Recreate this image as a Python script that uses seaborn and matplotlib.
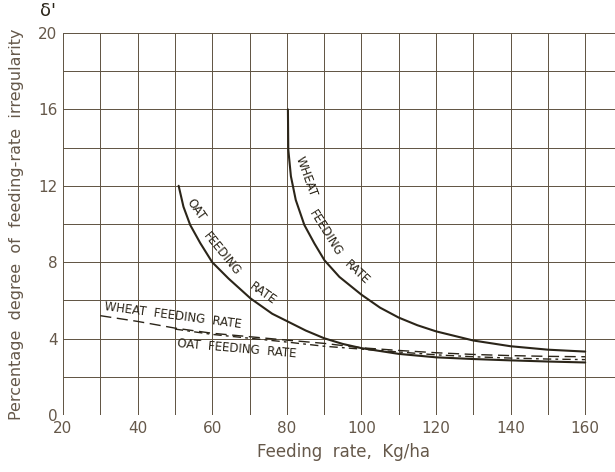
import numpy as np
import pandas as pd
import seaborn as sns
from matplotlib import pyplot as plt
from matplotlib.ticker import MultipleLocator

# values (feeding rate kg/ha -> irregularity %)
oat_solid_x = [51, 52.3, 54.1, 56.8, 60, 64.4, 70.3, 76.1, 80.2, 85.1, 90, 95, 100, 110, 120, 130, 140, 150, 160]
oat_solid_y = [12.0, 10.9, 9.95, 9.0, 8.0, 7.14, 6.1, 5.3, 4.9, 4.42, 4.02, 3.72, 3.5, 3.2, 3.02, 2.93, 2.86, 2.8, 2.75]

wheat_solid_x = [80.3, 80.4, 81.1, 82.4, 84.7, 87.4, 90.1, 94.1, 100, 105, 110, 115, 120, 130, 140, 150, 160]
wheat_solid_y = [16.0, 13.9, 12.5, 11.26, 9.95, 8.98, 8.1, 7.23, 6.3, 5.62, 5.1, 4.7, 4.38, 3.9, 3.6, 3.42, 3.32]

wheat_dash_x = [30, 40, 50, 60, 70, 80, 90, 100, 110, 120, 130, 140, 150, 160]
wheat_dash_y = [5.2, 4.9, 4.55, 4.28, 4.1, 3.92, 3.75, 3.52, 3.38, 3.26, 3.17, 3.11, 3.07, 3.05]

oat_dash_x = [50, 60, 70, 80, 90, 100, 110, 120, 130, 140, 150, 160]
oat_dash_y = [4.5, 4.22, 4.02, 3.82, 3.6, 3.45, 3.3, 3.15, 3.05, 2.98, 2.93, 2.9]

x_ticks = [20, 40, 60, 80, 100, 120, 140, 160]
y_ticks = [0, 4, 8, 12, 16, 20]

ink = '#2b2519'
grid_col = '#5e5241'
text_col = '#65584a'


def make_df(xs, ys):
    return pd.DataFrame({'rate': xs, 'irr': ys})


sns.set_style('white')
plt.rcParams['font.family'] = ['DejaVu Sans']

fig = plt.figure(figsize=(6.15, 4.72), dpi=100)
ax = fig.add_axes([63 / 615, 57 / 472, 552 / 615, 382 / 472])

sns.lineplot(data=make_df(oat_solid_x, oat_solid_y), x='rate', y='irr', ax=ax,
             sort=False, color=ink, lw=1.5)
sns.lineplot(data=make_df(wheat_solid_x, wheat_solid_y), x='rate', y='irr', ax=ax,
             sort=False, color=ink, lw=1.5)
sns.lineplot(data=make_df(wheat_dash_x, wheat_dash_y), x='rate', y='irr', ax=ax,
             sort=False, color=ink, lw=1.0, linestyle=(0, (8, 4)))
sns.lineplot(data=make_df(oat_dash_x, oat_dash_y), x='rate', y='irr', ax=ax,
             sort=False, color=ink, lw=1.0, linestyle=(0, (6, 3, 2, 3)))

ax.set_xlim(20, 20 + 552 / 3.73)
ax.set_ylim(0, 20)
ax.set_xticks(x_ticks)
ax.set_yticks(y_ticks)
ax.xaxis.set_minor_locator(MultipleLocator(10))
ax.yaxis.set_minor_locator(MultipleLocator(2))
ax.grid(which='both', color=grid_col, lw=0.7)
ax.set_axisbelow(True)
for s in ax.spines.values():
    s.set_visible(False)
ax.tick_params(which='both', length=0, labelsize=11, colors=text_col, pad=4)

ax.set_xlabel('Feeding  rate,  Kg/ha', fontsize=12, color=text_col)
ax.xaxis.set_label_coords(0.509, -0.097)
ax.xaxis.label.set_va('center')
ax.set_ylabel('Percentage  degree  of  feeding-rate  irregularity', fontsize=11.5, color=text_col)
ax.yaxis.set_label_coords(-0.085, 0.5)
ax.yaxis.label.set_va('center')

ax.text(-0.027, 1.058, "δ'", transform=ax.transAxes, ha='center', va='center',
        fontsize=13, color=ink)

# labels along the steep curves
lab = dict(fontsize=8.5, color=ink, ha='center', va='center', rotation_mode='anchor')
ax.text(55.6, 10.75, 'OAT', rotation=-55, **lab)
ax.text(62.6, 8.45, 'FEEDING', rotation=-51, **lab)
ax.text(73.7, 6.35, 'RATE', rotation=-35, **lab)
ax.text(85.1, 12.5, 'WHEAT', rotation=-70, **lab)
ax.text(90.5, 9.5, 'FEEDING', rotation=-58, **lab)
ax.text(98.8, 7.45, 'RATE', rotation=-43, **lab)

# labels of the flat dashed curves
ax.text(30.8, 5.35, 'WHEAT  FEEDING  RATE', fontsize=8.5, color=ink, rotation=-7.5,
        rotation_mode='anchor', ha='left', va='bottom')
ax.text(50.5, 3.4, 'OAT  FEEDING  RATE', fontsize=8.5, color=ink, rotation=-5,
        rotation_mode='anchor', ha='left', va='bottom')

fig.savefig('out.png', dpi=100)
